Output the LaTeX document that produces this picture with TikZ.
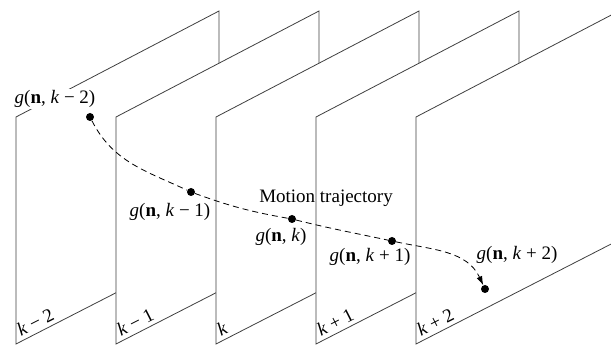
\documentclass[tikz,border=0pt]{standalone}
\usepackage{fontspec}
\setmainfont{Liberation Serif}
\usetikzlibrary{arrows.meta,positioning}

\begin{document}
\begin{tikzpicture}[
  x=1pt, y=1pt,
  frame/.style={draw=black!75, fill=white, line width=0.8pt},
  dot/.style={circle, fill=black, inner sep=0pt, minimum size=8pt},
  glabel/.style={inner sep=1.5pt, font=\fontsize{19}{22}\selectfont},
  flabel/.style={rotate=27, anchor=base west, inner sep=0pt, font=\fontsize{19}{22}\selectfont},
  traj/.style={dash pattern=on 6pt off 4pt, line width=0.8pt, -{Latex[length=9pt,width=6pt]}}
]
\clip (0,0) rectangle (611,345);
% frames, drawn back to front
\foreach \i/\lab in {0/{\textit{k} − 2}, 1/{\textit{k} − 1}, 2/{\textit{k}}, 3/{\textit{k} + 1}, 4/{\textit{k} + 2}}{
  \draw[frame] (16+100*\i,1) -- (219+100*\i,105) -- (219+100*\i,334) -- (16+100*\i,228) -- cycle;
  \node[flabel] (fl\i) at (21+100*\i,8) {\lab};
}
% points on the trajectory
\node[dot] (gkm2) at (90,228) {};
\node[dot] (gkm1) at (191,153) {};
\node[dot] (gk) at (292,126) {};
\node[dot] (gkp1) at (392,104) {};
\node[dot] (gkp2) at (485,56) {};
\draw[traj] (gkm2) to[out=-63,in=155] (gkm1) to[out=-20,in=170] (gk)
  to[out=-14,in=168] (gkp1) to[out=-12,in=115] (gkp2);
% labels
\node[glabel, fill=white] (lkm2) at (55,246) {\textit{g}(\textbf{n}, \textit{k} − 2)};
\node[glabel] (lkm1) at (170,133) {\textit{g}(\textbf{n}, \textit{k} − 1)};
\node[glabel] (lk) at (281,108) {\textit{g}(\textbf{n}, \textit{k})};
\node[glabel] (lkp1) at (370,88) {\textit{g}(\textbf{n}, \textit{k} + 1)};
\node[glabel] (lkp2) at (517,90) {\textit{g}(\textbf{n}, \textit{k} + 2)};
\node[glabel] (mt) at (326,147) {Motion trajectory};
\end{tikzpicture}
\end{document}
